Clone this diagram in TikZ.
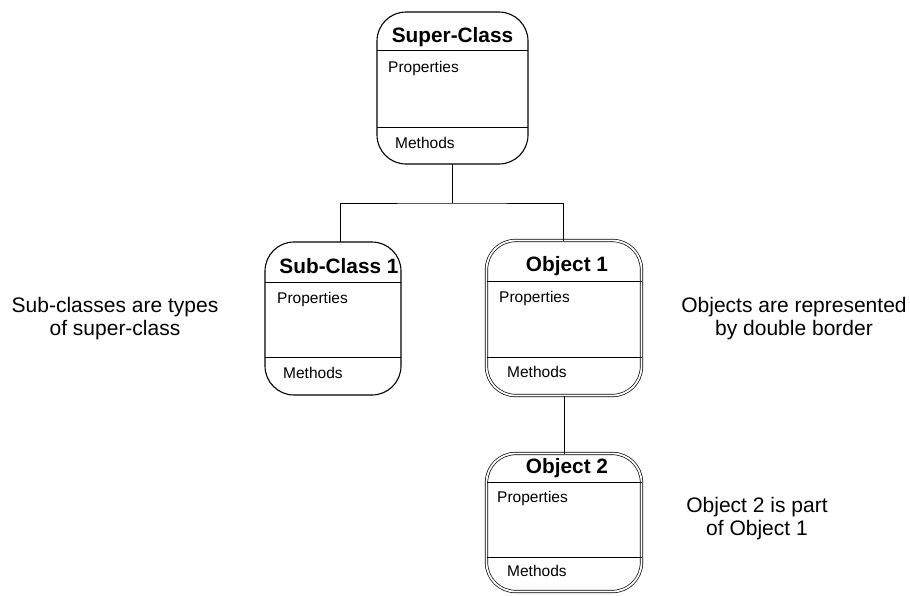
\documentclass[tikz,border=0pt]{standalone}
\usepackage{fontspec}
\setmainfont{Liberation Sans}
\usepackage{tikz}

\begin{document}
\begin{tikzpicture}[x=1pt, y=-1pt,
        classbox/.style={shape=rectangle, draw=black, line width=1.1pt, rounded corners=29pt, outer sep=0pt, inner sep=0pt},
        objbox/.style={classbox, double, double distance=1.8pt, line width=0.7pt},
        title/.style={anchor=base, inner sep=0pt, font=\fontsize{20.8}{24}\selectfont\bfseries},
        part/.style={anchor=base west, inner sep=0pt, font=\fontsize{15.5}{18}\selectfont},
        note/.style={align=center, inner sep=0pt, font=\fontsize{21}{23}\selectfont},
        divider/.style={line width=0.9pt},
        link/.style={line width=0.9pt}]
        \useasboundingbox (0, 0) rectangle (910, 595);

        % super-class
        \node[classbox, minimum width=151pt, minimum height=152pt] (super) at (452.5, 88) {};
        \node[title] (super-title) at (452.5, 42) {Super-Class};
        \draw[divider] (super.west |- 0, 50) -- (super.east |- 0, 50);
        \draw[divider] (super.west |- 0, 127) -- (super.east |- 0, 127);
        \node[part] (super-prop) at (388, 72) {Properties};
        \node[part] (super-meth) at (395, 148) {Methods};

        % sub-class
        \node[classbox, minimum width=136pt, minimum height=153pt] (sub) at (333, 318.5) {};
        \node[title] (sub-title) at (339, 273) {Sub-Class 1};
        \draw[divider] (sub.west |- 0, 282) -- (sub.east |- 0, 282);
        \draw[divider] (sub.west |- 0, 357) -- (sub.east |- 0, 357);
        \node[part] (sub-prop) at (277, 303) {Properties};
        \node[part] (sub-meth) at (283, 378) {Methods};

        % object 1
        \node[objbox, minimum width=155pt, minimum height=155pt] (obj1) at (564, 318) {};
        \node[title] (obj1-title) at (567, 271) {Object 1};
        \draw[divider] (obj1.west |- 0, 281) -- (obj1.east |- 0, 281);
        \draw[divider] (obj1.west |- 0, 357) -- (obj1.east |- 0, 357);
        \node[part] (obj1-prop) at (499, 302) {Properties};
        \node[part] (obj1-meth) at (507, 377) {Methods};

        % object 2
        \node[objbox, minimum width=155pt, minimum height=138pt] (obj2) at (564, 522.5) {};
        \node[title] (obj2-title) at (567, 473) {Object 2};
        \draw[divider] (obj2.west |- 0, 482) -- (obj2.east |- 0, 482);
        \draw[divider] (obj2.west |- 0, 557) -- (obj2.east |- 0, 557);
        \node[part] (obj2-prop) at (497, 502) {Properties};
        \node[part] (obj2-meth) at (507, 576) {Methods};

        % connectors
        \coordinate (fork) at (452.5, 203);
        \draw[link] (super.south) -- (fork);
        \draw[link] ([xshift=7pt]sub.north) |- (fork) -| ([xshift=-1pt]obj1.north);
        \draw[link] (obj1.south) -- (obj2.north);

        % notes
        \node[note] (note-sub) at (115, 319) {Sub-classes are types\\of super-class};
        \node[note] (note-obj) at (794, 319) {Objects are represented\\by double border};
        \node[note] (note-part) at (757, 519) {Object 2 is part\\of Object 1};
    \end{tikzpicture}
\end{document}
